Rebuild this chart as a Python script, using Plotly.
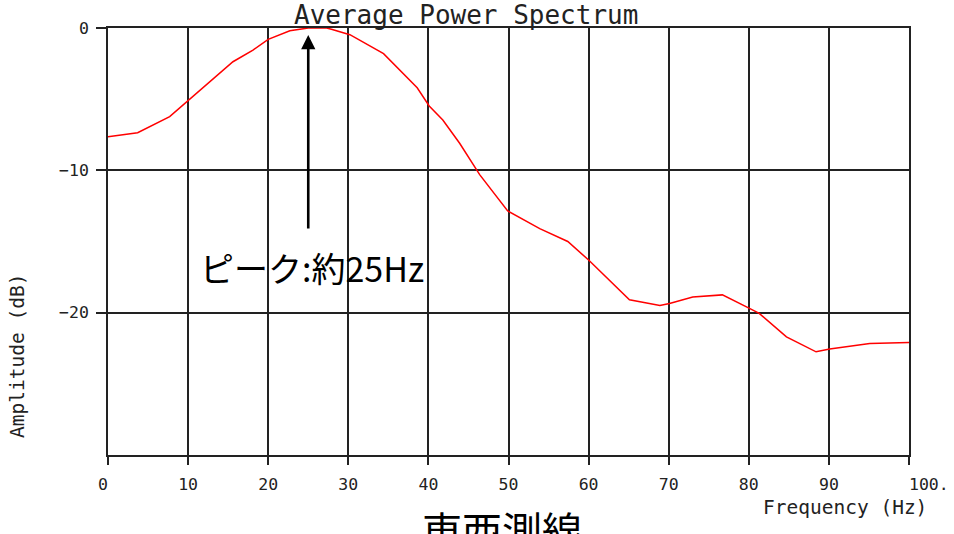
import plotly.graph_objects as go

# ---- data ----
freq = [0, 3.7, 7.7, 10.2, 12.7, 15.6, 18.1, 20, 22.7, 25, 27.3, 28, 30.2,
        34.4, 38.6, 40.1, 41.8, 43.9, 46.4, 49.9, 53.9, 57.4, 60, 65.1, 68.9,
        70.1, 73, 76.7, 79.9, 81.3, 84.7, 88.4, 90.1, 95.1, 100]
amp = [-7.64, -7.36, -6.23, -5.01, -3.77, -2.37, -1.55, -0.8, -0.19, 0, 0, -0.1, -0.47,
       -1.8, -4.2, -5.48, -6.46, -8.1, -10.3, -12.85, -14.1, -15.0, -16.3, -19.1, -19.5,
       -19.35, -18.9, -18.75, -19.65, -20.05, -21.7, -22.75, -22.56, -22.16, -22.1]

x_ticks = [0, 10, 20, 30, 40, 50, 60, 70, 80, 90, 100]
x_ticktext = ["0\u00a0", "10", "20", "30", "40", "50", "60", "70", "80", "90",
              "\u00a0\u00a0\u00a0\u00a0100."]
y_ticks = [0, -10, -20]
y_ticktext = ["0", "\u221210", "\u221220"]

title_text = "Average Power Spectrum"
x_title = "Frequency (Hz)"
y_title = "Amplitude (dB)"
peak_freq = 25
peak_label = "ピーク:約25Hz"
caption = "東西測線"

mono = "DejaVu Sans Mono"
cjk = "Noto Sans CJK JP"
ink = "#222222"

fig = go.Figure()
fig.add_trace(go.Scatter(x=freq, y=amp, mode="lines",
                         line=dict(color="#ff0000", width=1.5),
                         hoverinfo="skip", showlegend=False))

axis_common = dict(showgrid=True, gridcolor=ink, gridwidth=1.7,
                   showline=True, linecolor=ink, linewidth=1.7, mirror=True,
                   zeroline=False, ticks="outside", tickcolor=ink, tickwidth=1.7,
                   automargin=False,
                   tickfont=dict(family=mono, size=16.5, color=ink))

fig.update_xaxes(range=[0, 100], tickvals=x_ticks, ticktext=x_ticktext,
                 ticklen=8, ticklabelstandoff=5, **axis_common)
fig.update_yaxes(range=[-30, 0], tickvals=y_ticks, ticktext=y_ticktext,
                 ticklen=10, ticklabelstandoff=4, **axis_common)

annotations = [
    dict(text=title_text, xref="paper", yref="paper", x=0.447, y=1.0,
         yshift=13, xanchor="center", yanchor="middle", showarrow=False,
         font=dict(family=mono, size=26, color=ink)),
    dict(text=y_title, xref="paper", yref="paper", x=-0.1124, y=0.232,
         textangle=-90, xanchor="center", yanchor="middle", showarrow=False,
         font=dict(family=mono, size=19.5, color=ink)),
    dict(text=x_title, xref="paper", yref="paper", x=0.92, y=-0.1218,
         xanchor="center", yanchor="middle", showarrow=False,
         font=dict(family=mono, size=19.5, color=ink)),
    dict(text=caption, xref="paper", yref="paper", x=0.492, y=-0.1735,
         xanchor="center", yanchor="middle", showarrow=False,
         font=dict(family=cjk, size=40, color="#000000")),
    dict(text=peak_label, xref="x", yref="y", x=peak_freq + 0.5, y=-16.8,
         xanchor="center", yanchor="middle", showarrow=False,
         font=dict(family=cjk, size=34, color="#000000")),
    dict(text="", xref="x", yref="y", x=peak_freq, y=-0.49,
         axref="x", ayref="y", ax=peak_freq, ay=-14.2,
         showarrow=True, arrowhead=2, arrowsize=1.1, arrowwidth=2.6,
         arrowcolor="#000000", standoff=0),
]

fig.update_layout(width=954, height=534,
                  margin=dict(l=108, r=45, t=28, b=79),
                  paper_bgcolor="white", plot_bgcolor="white",
                  annotations=annotations, showlegend=False)

# remove the browser's default page margin so the figure sits at the window's corner
fig.write_html("out.html",
               config={"displayModeBar": False},
               post_script="document.body.style.margin='0';document.body.style.overflow='hidden';")
